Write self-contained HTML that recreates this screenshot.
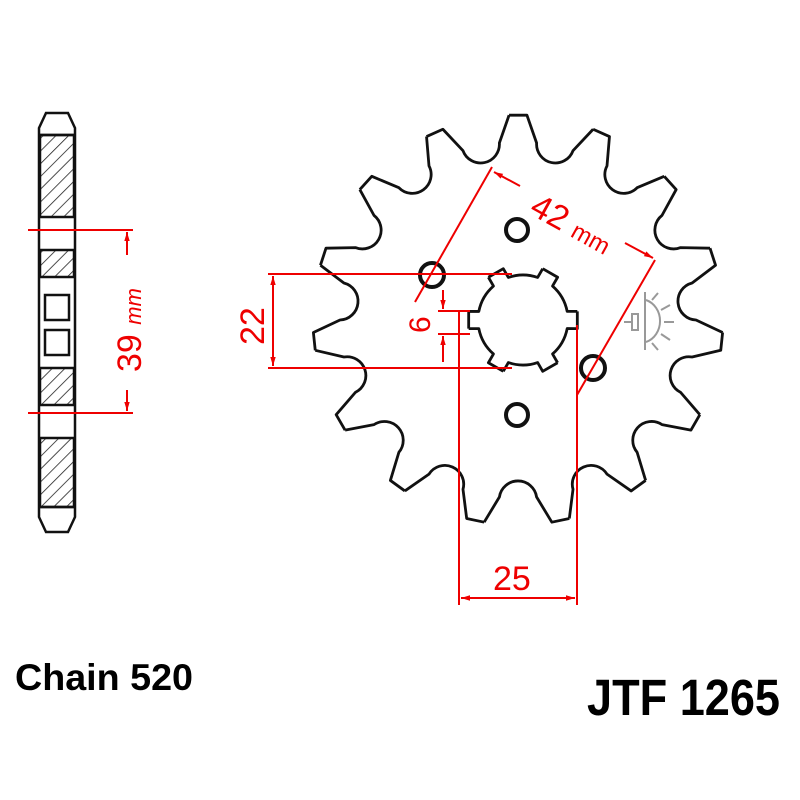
<!DOCTYPE html>
<html><head><meta charset="utf-8"><style>
html,body{margin:0;padding:0;background:#fff;}
svg{display:block;}
</style></head><body>
<svg width="800" height="800" viewBox="0 0 800 800" xmlns="http://www.w3.org/2000/svg" font-family="Liberation Sans, sans-serif">
<defs>
<pattern id="h" patternUnits="userSpaceOnUse" width="9" height="9" patternTransform="rotate(45)">
<line x1="0" y1="0" x2="0" y2="9" stroke="#222" stroke-width="1.6"/>
</pattern>
<marker id="a" viewBox="0 0 10 10" refX="10" refY="5" markerWidth="9" markerHeight="9" orient="auto-start-reverse" markerUnits="userSpaceOnUse"><path d="M0,2 L10,5 L0,8 z" fill="#e00"/></marker>
<path id="tooth" d="M-8.94,-204.80 L8.94,-204.80 L18.61,-177.02 A18.8,18.8 0 0 0 55.0,-169.29 L75.13,-190.74" fill="none" stroke="#111" stroke-width="2.8" stroke-linejoin="round"/>
<path id="spl" d="M19.71,-51.35 L34.61,-42.74 L29.52,-33.96 A45,45 0 0 1 44.17,-8.59 L54.32,-8.60" fill="none" stroke="#111" stroke-width="2.8" stroke-linejoin="round"/>
</defs>
<rect width="800" height="800" fill="#fff"/>
<!-- side view -->
<g stroke="#111" stroke-width="2.5" fill="none">
<rect x="40" y="135" width="34" height="82" fill="url(#h)"/>
<rect x="40" y="250" width="34" height="27" fill="url(#h)"/>
<rect x="40" y="368" width="34" height="37" fill="url(#h)"/>
<rect x="40" y="438" width="34" height="69" fill="url(#h)"/>
<path d="M46,113 L68,113 L75,128 L75,517 L68,532 L46,532 L39,517 L39,128 Z"/>
<line x1="39" y1="135" x2="75" y2="135"/>
<line x1="39" y1="507" x2="75" y2="507"/>
<rect x="45" y="295" width="24" height="25"/>
<rect x="45" y="330" width="24" height="25"/>
</g>
<g stroke="#e00" stroke-width="2" fill="none">
<line x1="28" y1="230" x2="133" y2="230"/>
<line x1="28" y1="413" x2="133" y2="413"/>
<line x1="127" y1="232" x2="127" y2="255" marker-start="url(#a)"/>
<line x1="127" y1="390" x2="127" y2="411" marker-end="url(#a)"/>
</g>
<text transform="translate(141,372) rotate(-90)" fill="#e00" font-size="34">39 <tspan font-size="22" font-style="italic">mm</tspan></text>
<!-- sprocket -->
<g transform="translate(518,320)">
<use href="#tooth" transform="rotate(0)"/><use href="#tooth" transform="rotate(24)"/><use href="#tooth" transform="rotate(48)"/>
<use href="#tooth" transform="rotate(72)"/><use href="#tooth" transform="rotate(96)"/><use href="#tooth" transform="rotate(120)"/>
<use href="#tooth" transform="rotate(144)"/><use href="#tooth" transform="rotate(168)"/><use href="#tooth" transform="rotate(192)"/>
<use href="#tooth" transform="rotate(216)"/><use href="#tooth" transform="rotate(240)"/><use href="#tooth" transform="rotate(264)"/>
<use href="#tooth" transform="rotate(288)"/><use href="#tooth" transform="rotate(312)"/><use href="#tooth" transform="rotate(336)"/>
</g>
<g transform="translate(523,320)">
<use href="#spl" transform="rotate(0)"/><use href="#spl" transform="rotate(60)"/><use href="#spl" transform="rotate(120)"/>
<use href="#spl" transform="rotate(180)"/><use href="#spl" transform="rotate(240)"/><use href="#spl" transform="rotate(300)"/>
</g>
<g fill="none" stroke="#111" stroke-width="4">
<circle cx="517" cy="230" r="11"/>
<circle cx="517" cy="415" r="11"/>
<circle cx="432" cy="275" r="12"/>
<circle cx="593" cy="368" r="12"/>
</g>
<!-- dimensions -->
<g stroke="#e00" stroke-width="2" fill="none">
<line x1="268" y1="274" x2="512" y2="274"/>
<line x1="268" y1="368" x2="512" y2="368"/>
<line x1="273" y1="276" x2="273" y2="366" marker-start="url(#a)" marker-end="url(#a)"/>
<line x1="438" y1="311" x2="470" y2="311"/>
<line x1="438" y1="334" x2="470" y2="334"/>
<line x1="443" y1="290" x2="443" y2="309" marker-end="url(#a)"/>
<line x1="443" y1="336" x2="443" y2="362" marker-start="url(#a)"/>
<line x1="459" y1="312" x2="459" y2="605"/>
<line x1="577" y1="325" x2="577" y2="605"/>
<line x1="461" y1="598" x2="575" y2="598" marker-start="url(#a)" marker-end="url(#a)"/>
<line x1="492" y1="167" x2="415" y2="302"/>
<line x1="655" y1="260" x2="577" y2="395"/>
<line x1="494" y1="172" x2="520" y2="186" marker-start="url(#a)"/>
<line x1="625" y1="243" x2="653" y2="258" marker-end="url(#a)"/>
</g>
<text transform="translate(264,345) rotate(-90)" fill="#e00" font-size="34">22</text>
<text transform="translate(430,333) rotate(-90)" fill="#e00" font-size="30">6</text>
<text x="493" y="590" fill="#e00" font-size="34">25</text>
<text transform="translate(528,213) rotate(29)" fill="#e00" font-size="34">42 <tspan font-size="24">mm</tspan></text>
<!-- icon -->
<g stroke="#999" stroke-width="2" fill="none">
<line x1="645" y1="292" x2="645" y2="350"/>
<path d="M646,300 A20,22 0 0 1 646,342"/>
<line x1="652" y1="300" x2="658" y2="293"/><line x1="661" y1="310" x2="670" y2="305"/><line x1="664" y1="322" x2="674" y2="322"/><line x1="661" y1="334" x2="670" y2="340"/><line x1="652" y1="343" x2="658" y2="350"/>
<path d="M624,322 h8 v-8 h6 v16 h-6 v-8"/>
</g>
<text x="15" y="690" font-size="37" font-weight="bold" textLength="178" lengthAdjust="spacingAndGlyphs">Chain 520</text>
<text x="587" y="715" font-size="51" font-weight="bold" textLength="193" lengthAdjust="spacingAndGlyphs">JTF 1265</text>
</svg>
</body></html>
